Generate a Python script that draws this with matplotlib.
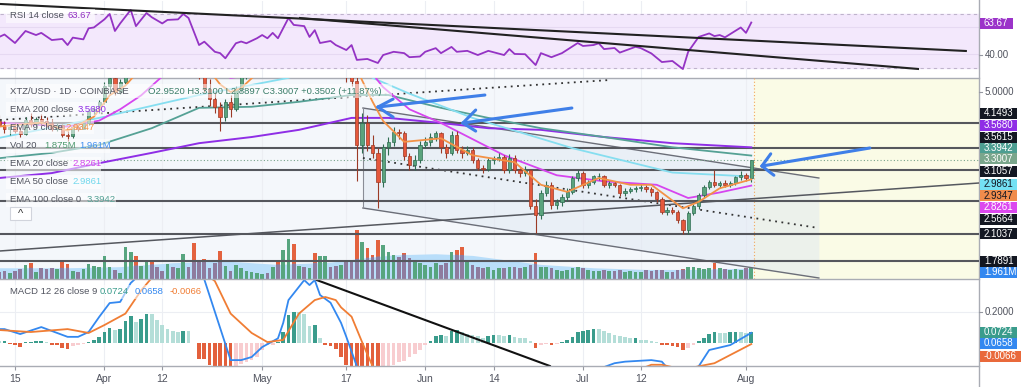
import numpy as np
import pandas as pd
import matplotlib
matplotlib.use("Agg")
import matplotlib.pyplot as plt
from matplotlib.patches import Rectangle

plt.rcParams["font.family"] = ["Liberation Sans", "DejaVu Sans"]

W, H = 1024, 387
R = 979   # right edge of the plotting area (px)

# x axis: days counted from 2021-03-15
day0 = pd.Timestamp("2021-03-15")
dates = pd.date_range("2021-03-12", "2021-08-02", freq="D")
days = np.array((dates - day0).days)

tick_dates = pd.to_datetime(["2021-03-15", "2021-04-01", "2021-04-12", "2021-05-01", "2021-05-17",
                             "2021-06-01", "2021-06-14", "2021-07-01", "2021-07-12", "2021-08-01"])
tick_labels = ["15", "Apr", "12", "May", "17", "Jun", "14", "Jul", "12", "Aug"]

# ---- XTZ/USD daily candles (Mar 12 .. Aug 2) ----
opens = [4.20, 4.10, 3.98, 4.05, 3.95, 3.88, 4.22, 4.12, 4.25, 4.20, 4.15, 4.00, 4.08,
         3.85, 3.82, 4.05, 4.00, 4.15, 4.45, 4.50, 4.70, 5.20, 5.45, 5.00, 5.30, 5.90, 6.10, 5.70,
         6.10, 6.70, 6.50, 6.30, 6.20, 6.40, 6.30, 6.40, 6.90, 6.60, 5.80, 5.60, 5.10, 4.80, 4.55,
         4.30, 4.70, 4.50, 5.10, 5.50, 5.80, 6.00, 6.20, 6.30, 6.10, 6.70, 6.50, 7.30, 7.70, 7.20,
         7.40, 7.00, 7.20, 6.30, 6.40, 6.60, 6.50, 6.00, 6.10, 5.60, 5.35, 3.62, 4.15, 3.62, 3.45,
         2.88, 3.57, 3.69, 3.93, 3.90, 3.39, 3.20, 3.30, 3.62, 3.69, 3.80, 3.90, 3.57, 3.45, 3.85,
         3.51, 3.45, 3.52, 3.30, 3.15, 3.12, 3.30, 3.33, 3.36, 3.10, 3.35, 3.10, 3.05, 3.10, 2.50,
         2.36, 2.70, 2.83, 2.51, 2.55, 2.64, 2.72, 2.96, 3.06, 2.83, 2.88, 2.99, 3.00, 2.83, 2.87,
         2.83, 2.70, 2.74, 2.76, 2.78, 2.80, 2.76, 2.71, 2.60, 2.41, 2.44, 2.41, 2.29, 2.16, 2.39,
         2.49, 2.67, 2.80, 2.89, 2.84, 2.87, 2.84, 2.87, 2.97, 3.02, 2.952]
highs = [4.35, 4.20, 4.10, 4.15, 4.05, 4.30, 4.40, 4.30, 4.38, 4.30, 4.25, 4.15, 4.12,
         3.95, 4.10, 4.15, 4.20, 4.50, 4.60, 4.75, 5.30, 5.60, 5.50, 5.40, 6.00, 6.30, 6.20, 6.20,
         6.80, 6.90, 6.70, 6.50, 6.60, 6.60, 6.50, 7.00, 7.00, 6.70, 6.10, 5.80, 5.40, 5.00, 4.70,
         4.80, 4.90, 5.20, 5.60, 5.90, 6.10, 6.30, 6.50, 6.40, 6.80, 6.90, 7.40, 7.90, 7.90, 7.60,
         7.50, 7.40, 7.30, 6.60, 6.90, 6.80, 6.60, 6.30, 6.20, 5.90, 5.50, 4.40, 4.35, 3.85, 3.55,
         3.65, 3.80, 4.05, 4.00, 3.95, 3.45, 3.40, 3.70, 3.80, 3.90, 3.95, 3.92, 3.65, 3.95, 3.95,
         3.60, 3.60, 3.58, 3.35, 3.20, 3.35, 3.38, 3.45, 3.40, 3.42, 3.40, 3.15, 3.18, 3.12, 2.60,
         2.75, 2.90, 2.88, 2.60, 2.68, 2.78, 3.00, 3.10, 3.08, 2.92, 3.02, 3.05, 3.02, 2.90, 2.90,
         2.85, 2.78, 2.80, 2.82, 2.86, 2.83, 2.80, 2.73, 2.64, 2.48, 2.48, 2.43, 2.31, 2.42, 2.52,
         2.70, 2.84, 2.92, 3.10, 2.90, 2.93, 2.90, 3.00, 3.08, 3.06, 3.31]
lows = [4.05, 3.90, 3.85, 3.90, 3.80, 3.85, 4.05, 4.05, 4.10, 4.05, 3.95, 3.95, 3.80,
        3.70, 3.78, 3.95, 3.98, 4.10, 4.35, 4.40, 4.65, 5.00, 4.90, 4.95, 5.25, 5.70, 5.50, 5.60,
        6.00, 6.30, 6.20, 6.00, 6.10, 6.20, 6.10, 6.30, 6.40, 5.60, 5.40, 5.00, 4.60, 4.40, 3.95,
        4.20, 4.30, 4.45, 5.00, 5.40, 5.60, 5.80, 6.00, 5.90, 6.00, 6.30, 6.40, 7.10, 7.00, 7.00,
        6.80, 6.60, 6.00, 5.70, 6.20, 6.30, 5.80, 5.70, 5.30, 5.20, 2.90, 3.45, 3.50, 3.35, 2.46,
        2.80, 3.40, 3.60, 3.75, 3.30, 3.10, 3.10, 3.25, 3.55, 3.60, 3.70, 3.45, 3.35, 3.40, 3.45,
        3.35, 3.40, 3.25, 3.10, 3.05, 3.08, 3.22, 3.28, 3.05, 3.05, 3.05, 2.98, 3.00, 2.45, 2.12,
        2.30, 2.65, 2.45, 2.45, 2.50, 2.58, 2.68, 2.90, 2.78, 2.78, 2.85, 2.92, 2.80, 2.78, 2.80,
        2.65, 2.65, 2.70, 2.72, 2.74, 2.72, 2.66, 2.55, 2.38, 2.36, 2.37, 2.25, 2.10, 2.10, 2.36,
        2.45, 2.62, 2.76, 2.80, 2.78, 2.80, 2.80, 2.84, 2.92, 2.90, 2.8897]
closes = [4.10, 3.98, 4.05, 3.95, 3.88, 4.22, 4.12, 4.25, 4.20, 4.15, 4.00, 4.08, 3.85,
          3.82, 4.05, 4.00, 4.15, 4.45, 4.50, 4.70, 5.20, 5.45, 5.00, 5.30, 5.90, 6.10, 5.70, 6.10,
          6.70, 6.50, 6.30, 6.20, 6.40, 6.30, 6.40, 6.90, 6.60, 5.80, 5.60, 5.10, 4.80, 4.55, 4.30,
          4.70, 4.50, 5.10, 5.50, 5.80, 6.00, 6.20, 6.30, 6.10, 6.70, 6.50, 7.30, 7.70, 7.20, 7.40,
          7.00, 7.20, 6.30, 6.40, 6.60, 6.50, 6.00, 6.10, 5.60, 5.35, 3.62, 4.15, 3.62, 3.45, 2.88,
          3.57, 3.69, 3.93, 3.90, 3.39, 3.20, 3.30, 3.62, 3.69, 3.80, 3.90, 3.57, 3.45, 3.85, 3.51,
          3.45, 3.52, 3.30, 3.15, 3.12, 3.30, 3.33, 3.36, 3.10, 3.35, 3.10, 3.05, 3.10, 2.50, 2.36,
          2.70, 2.83, 2.51, 2.55, 2.64, 2.72, 2.96, 3.06, 2.83, 2.88, 2.99, 3.00, 2.83, 2.87, 2.83,
          2.70, 2.74, 2.76, 2.78, 2.80, 2.76, 2.71, 2.60, 2.41, 2.44, 2.41, 2.29, 2.16, 2.39, 2.49,
          2.67, 2.80, 2.89, 2.84, 2.87, 2.84, 2.87, 2.97, 3.02, 2.952, 3.3007]
volume_m = [1.25, 1.48, 1.12, 1.48, 1.73, 2.49, 2.79, 1.30, 1.90, 1.73, 1.90, 1.73, 3.26,
            2.67, 1.48, 1.30, 1.73, 2.67, 2.31, 2.08, 4.09, 2.08, 1.60, 1.01, 5.75, 4.86, 4.09, 2.31,
            3.08, 3.38, 2.08, 1.48, 2.67, 2.08, 1.90, 4.45, 2.08, 6.46, 3.38, 3.51, 1.90, 2.79, 4.98,
            2.31, 1.48, 2.49, 1.90, 1.48, 1.30, 1.12, 0.89, 1.12, 2.08, 3.38, 5.16, 7.07, 6.23, 2.31,
            2.08, 1.90, 4.57, 4.09, 4.09, 2.08, 2.31, 2.49, 3.38, 3.38, 8.72, 6.59, 5.46, 4.27, 6.94,
            6.05, 4.81, 4.27, 3.97, 4.57, 3.68, 3.08, 2.79, 2.49, 2.19, 2.79, 2.49, 2.79, 4.81, 5.16,
            5.70, 3.38, 2.49, 2.19, 1.90, 2.19, 1.60, 1.90, 2.01, 2.19, 2.19, 1.90, 2.19, 2.49, 4.57,
            2.19, 2.19, 1.90, 1.60, 1.42, 1.60, 2.01, 2.19, 2.01, 1.60, 1.42, 1.42, 1.60, 1.42, 1.42,
            1.60, 1.30, 1.42, 1.30, 1.30, 1.60, 1.42, 1.60, 1.60, 1.30, 1.30, 1.60, 1.78, 2.19, 2.19,
            2.01, 1.78, 1.90, 2.79, 1.90, 1.78, 1.60, 1.78, 1.60, 2.01, 1.875]

vol_ma_days = [-3, 10, 20, 30, 40, 50, 60, 66, 72, 80, 87, 95, 100, 110, 120, 130, 140]
vol_ma = [2.0, 2.0, 2.2, 2.9, 3.2, 2.6, 3.0, 3.7, 4.3, 4.5, 4.2, 3.2, 2.6, 2.0, 1.7, 1.7, 1.961]

# ---- moving averages ----
ema9_days = [-3, 5, 10, 15, 18, 21, 25, 33, 36, 39, 41, 43, 46, 50, 60, 64, 66, 68, 70, 74,
             81, 87, 95, 100, 105, 111, 117, 121, 127, 130, 134, 140]
ema9 = [4.05, 4.15, 3.95, 4.30, 4.90, 5.20, 6.00, 6.40, 5.93, 5.24, 5.00, 5.12, 5.60, 6.20, 6.80, 6.20,
        5.37, 4.71, 4.19, 3.69, 3.77, 3.40, 3.26, 2.84, 2.72, 2.96, 2.84, 2.84, 2.46, 2.56, 2.78, 2.935]
ema20_days = [-3, 10, 16, 20, 24, 28, 36, 41, 47, 55, 62, 65, 68, 70, 75, 81, 93, 103, 112, 122, 128, 134, 140]
ema20 = [4.15, 4.05, 4.20, 4.50, 4.90, 5.50, 5.90, 5.45, 5.60, 6.40, 6.60, 6.23, 5.58, 5.15, 4.50, 4.14,
         3.40, 3.01, 2.90, 2.84, 2.62, 2.71, 2.826]
ema50_days = [-3, 16, 35, 52, 58, 64, 68, 75, 87, 106, 125, 140]
ema50 = [3.78, 4.27, 4.91, 5.45, 5.90, 5.95, 5.45, 4.95, 4.27, 3.55, 3.06, 2.986]
ema100_days = [-3, 7, 16, 26, 35, 45, 54, 64, 71, 81, 90, 100, 112, 125, 140]
ema100 = [3.34, 3.45, 3.62, 4.01, 4.54, 4.57, 4.71, 4.91, 4.91, 4.54, 4.27, 4.01, 3.80, 3.57, 3.394]
ema200_days = [-3, 7, 16, 26, 35, 45, 54, 64, 71, 81, 90, 100, 112, 125, 140]
ema200 = [2.96, 3.05, 3.24, 3.45, 3.66, 3.80, 3.97, 4.27, 4.27, 4.14, 4.01, 3.97, 3.80, 3.66, 3.568]

# ---- RSI 14 ----
rsi_days = [-3, -2, 0, 2, 4, 5, 7, 9, 10, 11, 13, 14, 15, 17, 18, 19, 20, 22, 23, 25,
            26, 28, 29, 31, 32, 33, 35, 36, 38, 39, 40, 42, 43, 44, 46, 47, 48, 49, 50, 52,
            53, 55, 56, 57, 58, 60, 61, 63, 64, 65, 67, 69, 70, 72, 74, 75, 77, 78, 80, 81,
            83, 84, 86, 88, 90, 93, 94, 95, 97, 99, 100, 102, 104, 107, 108, 110, 111, 112, 114, 115,
            118, 119, 121, 123, 125, 127, 128, 130, 132, 133, 134, 135, 138, 139, 140]
rsi_vals = [53, 54.8, 48.5, 57.4, 54.4, 56, 50.7, 51.5, 47, 52.5, 51.2, 59.4, 60, 66, 70, 57.4, 63, 73, 61, 70.7,
            67.6, 63, 65.6, 66, 70, 67, 47, 49.5, 42, 41, 37.2, 48.3, 49.6, 48.3, 52, 54.4, 52, 56, 52, 67,
            61.9, 61, 53, 58, 48.5, 50, 47, 43.3, 47, 36, 36.7, 33.7, 39.6, 42, 41, 38, 38.5, 42, 44.7, 41,
            45.6, 42, 42.7, 39.6, 42.7, 39.6, 44, 40.4, 40.2, 32.2, 41, 38, 41, 48.5, 46.3, 47, 48.3, 44, 44.8, 41.4,
            45.7, 44.7, 40.8, 34.4, 35.2, 29.2, 42, 53, 55.6, 53.6, 54.4, 52.7, 60, 56, 63.67]

# ---- MACD 12 26 9 ----
macd_hist = [0.010, 0.013, -0.005, -0.015, -0.024, 0.005, 0.008, 0.010, 0.012, 0.005, -0.010, -0.015, -0.030,
             -0.040, -0.020, -0.012, -0.008, 0.005, 0.020, 0.040, 0.070, 0.100, 0.085, 0.090, 0.145, 0.172, 0.137, 0.155,
             0.190, 0.185, 0.150, 0.118, 0.090, 0.077, 0.071, 0.080, 0.075, 0.000, -0.100, -0.100, -0.140, -0.150, -0.160,
             -0.160, -0.160, -0.145, -0.135, -0.120, -0.110, -0.090, -0.047, -0.015, -0.010, 0.005, 0.070, 0.180, 0.200, 0.200,
             0.190, 0.107, 0.115, 0.030, -0.015, -0.020, -0.040, -0.090, -0.140, -0.160, -0.170, -0.180, -0.185, -0.190, -0.195,
             -0.185, -0.165, -0.140, -0.125, -0.115, -0.090, -0.070, -0.045, -0.015, 0.015, 0.045, 0.050, 0.045, 0.080, 0.085,
             0.070, 0.060, 0.050, 0.045, 0.035, 0.045, 0.050, 0.050, 0.045, 0.050, 0.040, 0.035, 0.030, 0.010, -0.030,
             -0.010, -0.005, -0.012, -0.005, 0.005, 0.020, 0.040, 0.070, 0.080, 0.085, 0.090, 0.090, 0.075, 0.065, 0.055,
             0.048, 0.040, 0.030, 0.032, 0.020, 0.020, 0.010, 0.008, -0.010, -0.015, -0.020, -0.025, -0.045, -0.030, -0.015,
             0.010, 0.030, 0.060, 0.070, 0.068, 0.065, 0.070, 0.072, 0.070, 0.068, 0.0724]
macd_days = [-3, -2, 1, 5, 10, 12, 14, 16, 18, 20, 22, 24, 28, 32, 36, 41, 43, 45, 47, 50,
             51, 52, 55, 56, 57, 58, 60, 62, 63, 65, 67, 70, 75, 80, 85, 90, 95, 100, 105, 110,
             114, 116, 121, 123, 125, 127, 130, 132, 136, 140]
macd_vals = [0.09, 0.09, 0.058, 0.103, 0.04, 0.04, 0.071, 0.168, 0.258, 0.265, 0.387, 0.45, 0.55, 0.55, 0.41,
             -0.11, -0.11, -0.09, -0.026, 0.03, 0.13, 0.277, 0.406, 0.374, 0.406, 0.31, 0.26, 0.13, 0.04, -0.15,
             -0.35, -0.5, -0.55, -0.5, -0.45, -0.4, -0.33, -0.3, -0.25, -0.18, -0.13, -0.12, -0.11, -0.12, -0.2,
             -0.2, -0.15, -0.045, -0.013, 0.0658]
signal_days = [-3, 3, 10, 14, 17, 21, 24, 26, 30, 34, 38, 41, 45, 48, 51, 54, 57, 59, 61, 62,
               64, 66, 68, 72, 80, 90, 100, 110, 118, 121, 123, 127, 130, 133, 136, 140]
signal_vals = [0.084, 0.071, 0.09, 0.065, 0.116, 0.19, 0.34, 0.42, 0.5, 0.5, 0.4, 0.19, 0.065, 0.006, 0.02, 0.19,
               0.277, 0.297, 0.277, 0.23, 0.17, 0.006, -0.15, -0.3, -0.4, -0.38, -0.32, -0.25, -0.18, -0.14, -0.14,
               -0.17, -0.15, -0.13, -0.077, -0.0066]

# ---- drawings (day offset, value) ----
rsi_trend = [((-2.85, 77.4), (180.8, 42.6)), ((54.2, 67.0), (171.7, 29.3))]
levels = [4.1493, 3.5615, 3.1057, 2.5664, 2.1037, 1.7891]
rising_line = ((-2.85, 1.897), (183.3, 2.871))
chan_upper = ((66.16, 4.535), (152.85, 2.96))
chan_mid = ((66.16, 3.344), (152.85, 2.182))
chan_lower = ((66.16, 2.465), (152.85, 1.609))
dotted_top = ((-2.85, 4.215), (113.1, 5.38))
arrows = [  # tail, tip, wing1, wing2
    ((89.35, 4.909), (69.01, 4.563), (71.9, 4.79), (71.9, 4.29)),
    ((105.89, 4.535), (85.17, 4.139), (87.6, 4.48), (87.6, 3.94)),
    ((162.55, 3.554), (142.02, 3.184), (143.7, 3.43), (144.3, 3.01)),
]
macd_trend = ((57.4, 0.406), (101.7, -0.148))
projection_start = 140.5

# ---------------------------------------------------------------
XL = (-2.85, 183.3)


def fx(x):
    return x / W


def fy(y):
    return 1 - y / H


def panel(top, bottom):
    return [0, fy(bottom), fx(R), (bottom - top) / H]


fig = plt.figure(figsize=(W / 100, H / 100), dpi=100)
fig.patch.set_facecolor("white")

ax_rsi = fig.add_axes(panel(1, 78))
ax_vol = fig.add_axes(panel(78, 279))
ax_main = fig.add_axes(panel(78, 279))
ax_macd = fig.add_axes(panel(279, 366))
ax_main.set_zorder(3)
ax_main.patch.set_visible(False)

tick_days = np.array((tick_dates - day0).days)
for ax in (ax_rsi, ax_vol, ax_main, ax_macd):
    ax.set_xlim(*XL)
    for s in ax.spines.values():
        s.set_visible(False)
    ax.set_yticks([])
    ax.set_xticks([])
for ax in (ax_rsi, ax_vol, ax_macd):
    for t in tick_days:
        ax.axvline(t, color="#eceef3", lw=0.8, zorder=0)

# ---- RSI panel ----
ax_rsi.set_ylim(22.6, 79.6)
ax_rsi.axhspan(30, 70, color="#f3e8fc", zorder=0)
for lv in (40, 60):
    ax_rsi.axhline(lv, color="#e6d9f2", lw=0.8, zorder=0.5)
for lv in (30, 70):
    ax_rsi.axhline(lv, color="#bfb3cc", lw=0.8, ls=(0, (3, 3)), zorder=0.5)
ax_rsi.plot(rsi_days, rsi_vals, color="#9433c4", lw=1.3, zorder=3)
for (a, b) in rsi_trend:
    ax_rsi.plot([a[0], b[0]], [a[1], b[1]], color="#222222", lw=1.5, zorder=4)

# ---- price panel ----
o, h, l, c = map(np.array, (opens, highs, lows, closes))
up = c >= o
ax_vol.set_facecolor("#f4f7fb")
ax_vol.axvspan(projection_start, XL[1], color="#fafbe6", zorder=0)
ax_vol.set_ylim(0, 35.8)
ax_vol.fill_between(vol_ma_days, 0, vol_ma, color="#b9defa", lw=0, zorder=1)
vol = np.array(volume_m)
ax_vol.bar(days[up], vol[up], width=0.7, color="#57a57f", zorder=2)
ax_vol.bar(days[~up], vol[~up], width=0.7, color="#8e7b9e", zorder=2)
above = ax_vol.fill_between(vol_ma_days, vol_ma, 100, color="none", lw=0)
clip = above.get_paths()[0]
above.remove()
hi = ax_vol.bar(days[~up], vol[~up], width=0.7, color="#e3623f", zorder=3)
for b in hi:
    b.set_clip_path(clip, ax_vol.transData)

ax_main.set_yscale("log")
ax_main.set_ylim(1.599, 5.446)
ax_main.set_yticks([])
ax_main.minorticks_off()
ax_main.axvline(projection_start, color="#f3a55d", lw=0.8, ls=(0, (1, 2)), zorder=1)

ax_main.fill_between([chan_upper[0][0], chan_upper[1][0]], [chan_lower[0][1], chan_lower[1][1]],
                     [chan_upper[0][1], chan_upper[1][1]], color="#dde6f2", alpha=0.45, lw=0, zorder=0.5)
for seg in (chan_upper, chan_lower):
    ax_main.plot([seg[0][0], seg[1][0]], [seg[0][1], seg[1][1]], color="#6b6e78", lw=1.0, zorder=2)
ax_main.plot([chan_upper[0][0]] * 2, [chan_lower[0][1], chan_upper[0][1]], color="#8a8d96", lw=0.8, zorder=2)
ax_main.plot([chan_mid[0][0], chan_mid[1][0]], [chan_mid[0][1], chan_mid[1][1]], color="#333333",
             lw=1.3, ls=(0, (1, 2.5)), zorder=2)
ax_main.plot([dotted_top[0][0], dotted_top[1][0]], [dotted_top[0][1], dotted_top[1][1]], color="#333333",
             lw=1.3, ls=(0, (1, 2.5)), zorder=2)
ax_main.plot([rising_line[0][0], rising_line[1][0]], [rising_line[0][1], rising_line[1][1]],
             color="#55585f", lw=1.1, zorder=2)
for lv in levels:
    ax_main.axhline(lv, color="#55575d", lw=1.5, zorder=2)
ax_main.axhline(closes[-1], color="#7aa58c", lw=0.8, ls=(0, (1, 2)), zorder=2)

ax_main.plot(ema200_days, ema200, color="#8f2ee6", lw=1.4, zorder=3)
ax_main.plot(ema100_days, ema100, color="#55a195", lw=1.3, zorder=3)
ax_main.plot(ema50_days, ema50, color="#86def0", lw=1.3, zorder=3)
ax_main.plot(ema20_days, ema20, color="#d645ef", lw=1.3, zorder=3)

edge = np.where(up, "#2f6d52", "#9b3a26")
body = np.where(up, "#5aa37d", "#e5583c")
ax_main.vlines(days, l, h, colors=edge, lw=0.8, zorder=4)
ax_main.bar(days, np.maximum(np.abs(c - o), 0.006), bottom=np.minimum(o, c), width=0.62,
            color=body, edgecolor=edge, lw=0.5, zorder=5)
ax_main.plot(ema9_days, ema9, color="#f39246", lw=1.3, zorder=6)

for tail, tip, w1, w2 in arrows:
    for p in (tail, w1, w2):
        ax_main.plot([p[0], tip[0]], [p[1], tip[1]], color="#3f7fe8", lw=2.2,
                     solid_capstyle="round", zorder=7)

# ---- MACD panel ----
ax_macd.set_ylim(-0.148, 0.413)
ax_macd.axhline(0.2, color="#eceef3", lw=0.8, zorder=0)
hist = np.array(macd_hist)
prev = np.concatenate([[hist[0]], hist[:-1]])
hcol = np.where(hist >= 0, np.where(hist > prev, "#3a9c8c", "#b4ded8"),
                np.where(hist > prev, "#f8cdd0", "#e3603c"))
ax_macd.bar(days, hist, width=0.7, color=hcol, zorder=2)
ax_macd.plot(macd_days, macd_vals, color="#3388f0", lw=1.3, zorder=3)
ax_macd.plot(signal_days, signal_vals, color="#f07d34", lw=1.3, zorder=3)
ax_macd.plot([macd_trend[0][0], macd_trend[1][0]], [macd_trend[0][1], macd_trend[1][1]],
             color="#111111", lw=1.5, zorder=4)
ax_macd.set_xticks(tick_days)
ax_macd.set_xticklabels(tick_labels, fontsize=7.5, color="#50535e")
ax_macd.tick_params(axis="x", length=3, color="#9598a1", pad=3)

# ---- frame lines ----
for y in (78, 279, 366):
    fig.add_artist(plt.Line2D([0, fx(R)], [fy(y), fy(y)], color="#a9acb4", lw=1.0))
fig.add_artist(plt.Line2D([fx(R), fx(R)], [0, 1], color="#a9acb4", lw=1.0))

# ---- legends (semi-transparent strip behind each row, as in the platform) ----
GREY = "#50535e"


def legend(y, parts, right, size=6.8):
    fig.add_artist(Rectangle((fx(6), fy(y + 7)), (right - 6) / W, 14 / H, transform=fig.transFigure,
                             fc="white", ec="none", alpha=0.55, zorder=9))
    for x, txt, col in parts:
        fig.text(fx(x), fy(y), txt, color=col, fontsize=size, va="center", ha="left", zorder=10)


legend(16, [(10, "RSI 14 close", GREY), (68, "63.67", "#9433c4")], 95)
legend(91, [(10, "XTZ/USD · 1D · COINBASE", GREY),
            (148, "O2.9520 H3.3100 L2.8897 C3.3007 +0.3502 (+11.87%)", "#3b7d69")], 392)
legend(109, [(10, "EMA 200 close", GREY), (78, "3.5680", "#8f2ee6")], 106)
legend(127, [(10, "EMA 9 close", GREY), (65, "2.9347", "#f39246")], 94)
legend(146, [(10, "Vol 20", GREY), (44, "1.875M", "#4f9a6f"), (79, "1.961M", "#3f8ef0")], 110)
legend(164, [(10, "EMA 20 close", GREY), (72, "2.8261", "#d645ef")], 101)
legend(182, [(10, "EMA 50 close", GREY), (72, "2.9861", "#6fd7ec")], 101)
legend(200, [(10, "EMA 100 close 0", GREY), (87, "3.3942", "#55a195")], 116)
legend(292, [(10, "MACD 12 26 close 9", GREY), (100, "0.0724", "#3a9c8c"),
             (135, "0.0658", "#3388f0"), (170, "-0.0066", "#f07d34")], 203)

fig.add_artist(Rectangle((fx(10), fy(220)), 21 / W, 13 / H, transform=fig.transFigure,
                         fc="white", ec="#d1d4dc", lw=0.8, zorder=10))
fig.text(fx(20.5), fy(214), "^", fontsize=8, color="#333333", ha="center", va="center", zorder=11)

# ---- right axis labels ----


def tag(y, txt, bg, fg="white", w=37):
    fig.add_artist(Rectangle((fx(980), fy(y + 5.5)), w / W, 11 / H, transform=fig.transFigure,
                             fc=bg, ec="none", zorder=10))
    fig.text(fx(984), fy(y), txt, color=fg, fontsize=7, va="center", ha="left", zorder=11)


for y, txt in ((55, "40.00"), (92, "5.0000"), (312, "0.2000")):
    fig.text(fx(985), fy(y), txt, color=GREY, fontsize=7, va="center", ha="left")
    fig.add_artist(plt.Line2D([fx(979), fx(982)], [fy(y), fy(y)], color="#9598a1", lw=0.8))

tag(23, "63.67", "#9b33c9", w=33)
tag(113, "4.1493", "#131722")
tag(125, "3.5680", "#8f2ee6")
tag(137, "3.5615", "#131722")
tag(148, "3.3942", "#4d9e92")
tag(159, "3.3007", "#7aa68c")
tag(171, "3.1057", "#131722")
tag(184, "2.9861", "#74e1f3", fg="#131722")
tag(196, "2.9347", "#f08c4c", fg="#131722")
tag(207, "2.8261", "#dc48ef")
tag(219, "2.5664", "#131722")
tag(234, "2.1037", "#131722")
tag(261, "1.7891", "#131722")
tag(272, "1.961M", "#3388f0")
tag(332, "0.0724", "#3a9c8c")
tag(343, "0.0658", "#3388f0")
tag(356, "-0.0066", "#e9693b", w=41)

fig.savefig("out.png", dpi=100)
